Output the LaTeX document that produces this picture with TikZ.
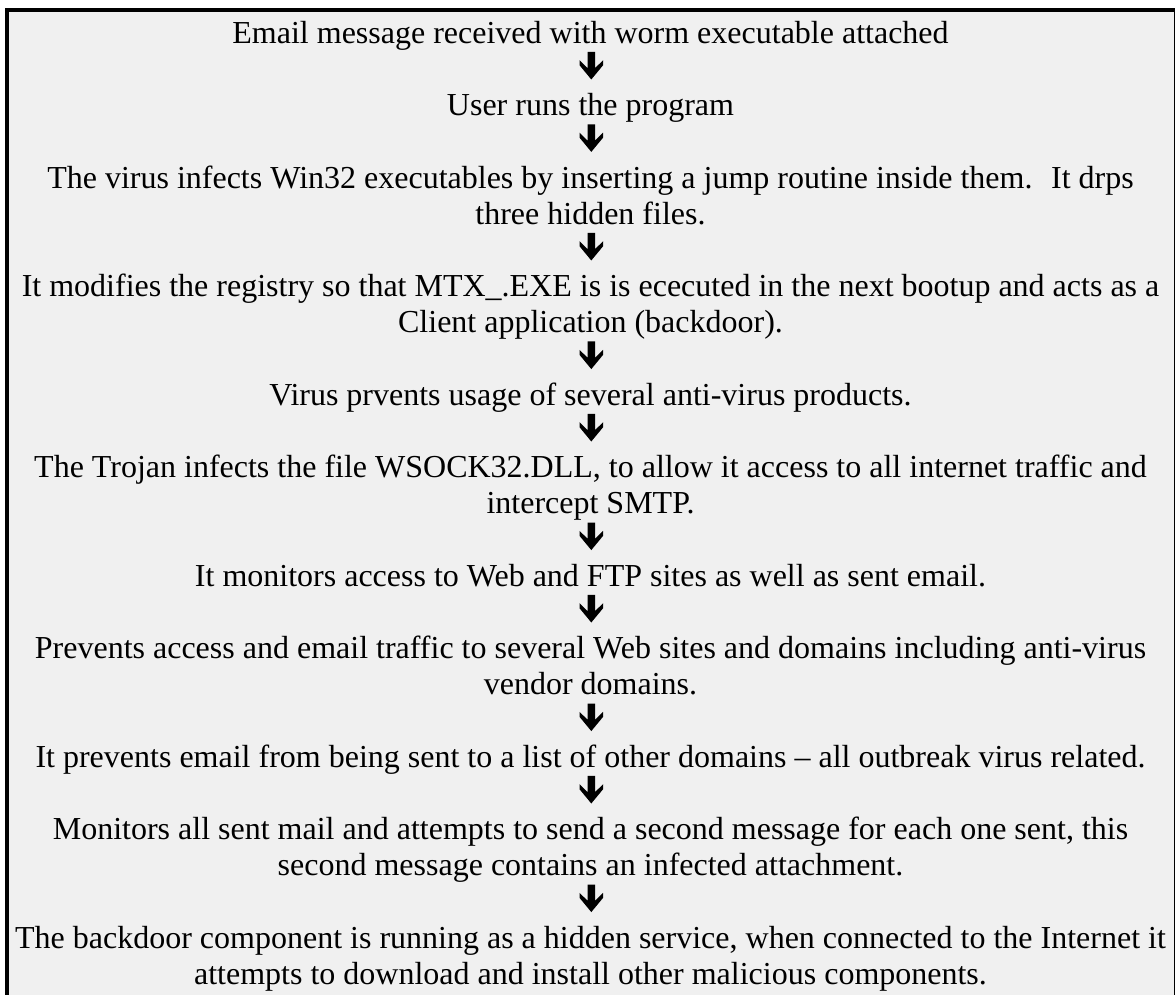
\documentclass[tikz,border=0pt]{standalone}
\usepackage{fontspec}
\setmainfont{Liberation Serif}
\definecolor{bg}{HTML}{F0F0F0}
\begin{document}
\begin{tikzpicture}[x=0.5pt,y=-0.5pt,
  txt/.style={anchor=base, align=center, inner sep=0pt, font=\fontsize{16}{18.1}\selectfont},
  dnarrow/.pic={\fill[black] (-3.7,-27.6) -- (3.7,-27.6) -- (3.7,-11.3) -- (11.8,-19.3) -- (11.8,-14.3) -- (0,0) -- (-11.8,-14.3) -- (-11.8,-19.3) -- (-3.7,-11.3) -- cycle;}]
\useasboundingbox (0,0) rectangle (1175,995);
\fill[bg] (9,12) rectangle (1173.7,995);
\fill[black] (5,8) rectangle (1175,12);
\fill[black] (5,8) rectangle (9,995);
\fill[black] (1173.7,12) rectangle (1174.7,995);

% base anchor of a multi-line node is the baseline of its last line
\node[txt] (t1) at (590.5,43.3) {Email message received with worm executable attached};
\node[txt] (t2) at (590.5,115.7) {User runs the program};
\node[txt] (t3) at (590.5,224.3) {The virus infects Win32 executables by inserting a jump routine inside them.~ It drps\\three hidden files.};
\node[txt] (t4) at (590.5,332.9) {It modifies the registry so that MTX\_.EXE is is ececuted in the next bootup and acts as a\\Client application (backdoor).};
\node[txt] (t5) at (590.5,405.3) {Virus prvents usage of several anti-virus products.};
\node[txt] (t6) at (590.5,513.9) {The Trojan infects the file WSOCK32.DLL, to allow it access to all internet traffic and\\intercept SMTP.};
\node[txt] (t7) at (590.5,586.3) {It monitors access to Web and FTP sites as well as sent email.};
\node[txt] (t8) at (590.5,694.9) {Prevents access and email traffic to several Web sites and domains including anti-virus\\vendor domains.};
\node[txt] (t9) at (590.5,767.3) {It prevents email from being sent to a list of other domains – all outbreak virus related.};
\node[txt] (t10) at (590.5,875.9) {Monitors all sent mail and attempts to send a second message for each one sent, this\\second message contains an infected attachment.};
\node[txt] (t11) at (590.5,984.5) {The backdoor component is running as a hidden service, when connected to the Internet it\\attempts to download and install other malicious components.};

\pic at (591.3,79.5) {dnarrow};
\pic at (591.3,151.9) {dnarrow};
\pic at (591.3,260.5) {dnarrow};
\pic at (591.3,369.1) {dnarrow};
\pic at (591.3,441.5) {dnarrow};
\pic at (591.3,550.1) {dnarrow};
\pic at (591.3,622.5) {dnarrow};
\pic at (591.3,731.1) {dnarrow};
\pic at (591.3,803.5) {dnarrow};
\pic at (591.3,912.1) {dnarrow};
\end{tikzpicture}
\end{document}
